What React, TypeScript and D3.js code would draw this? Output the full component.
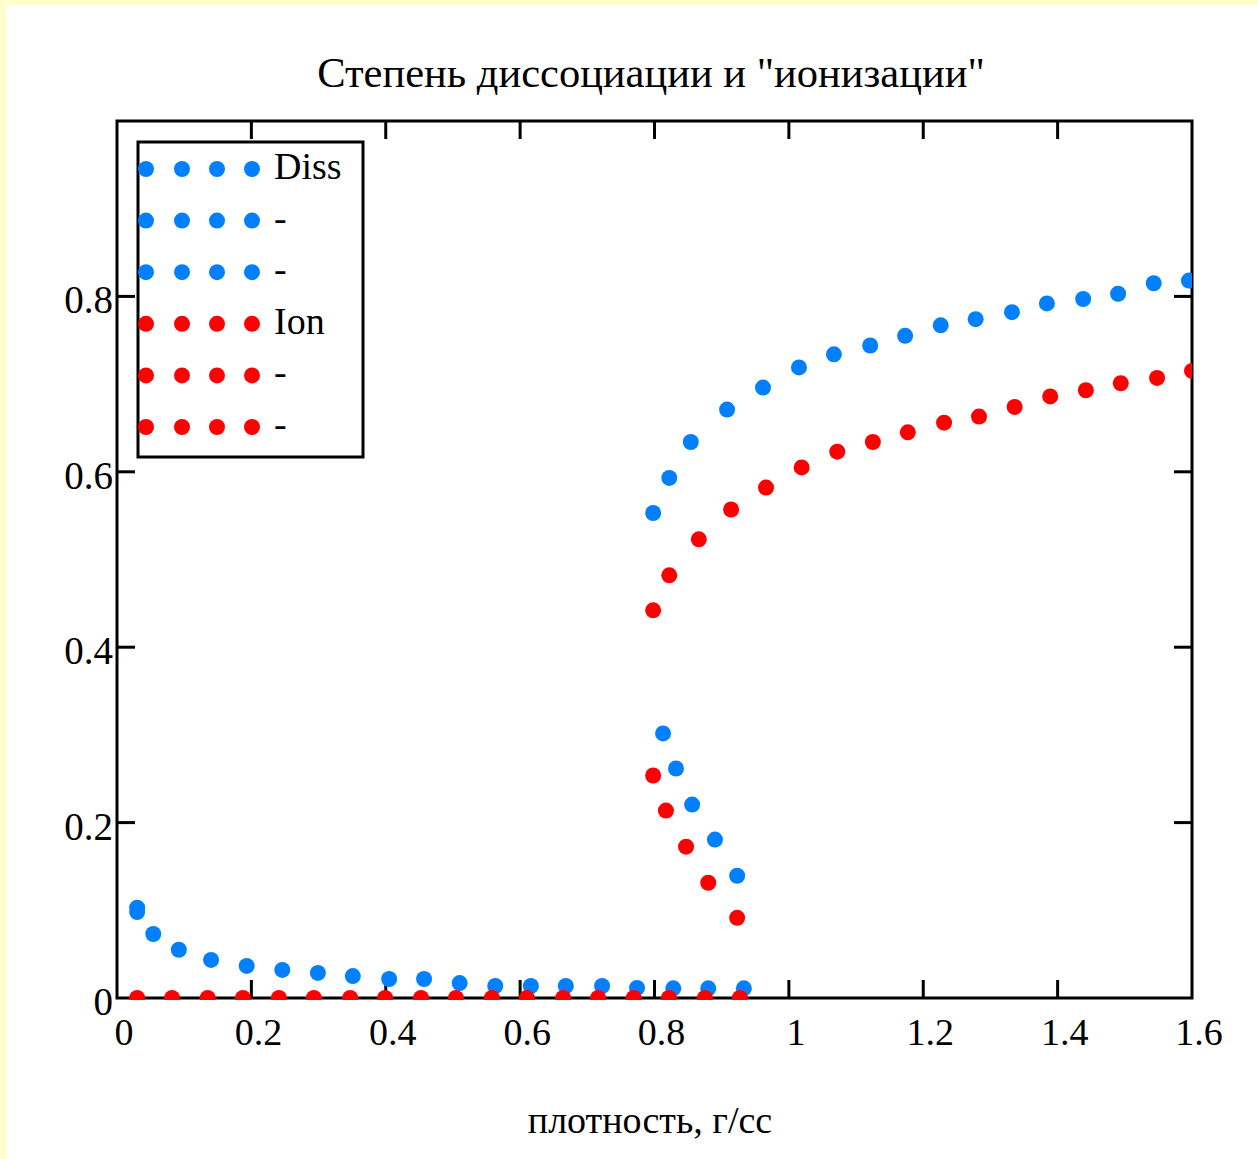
import React from "react";
import * as d3 from "d3";

// ---- data ----
const xTicks = [0, 0.2, 0.4, 0.6, 0.8, 1, 1.2, 1.4, 1.6];
const yTicks = [0, 0.2, 0.4, 0.6, 0.8];

const dissLowX = [0.03, 0.03, 0.054, 0.092, 0.14, 0.193, 0.246, 0.299, 0.351, 0.405, 0.457, 0.51, 0.563, 0.616, 0.668, 0.722, 0.774, 0.828, 0.88, 0.933];
const dissLowY = [0.103, 0.098, 0.073, 0.055, 0.0434, 0.0366, 0.032, 0.0286, 0.025, 0.0217, 0.0217, 0.017, 0.0137, 0.0137, 0.0137, 0.0137, 0.0115, 0.011, 0.011, 0.011];
const dissMidX = [0.8127, 0.832, 0.856, 0.89, 0.923];
const dissMidY = [0.3017, 0.2617, 0.2206, 0.1806, 0.1394];
const dissHighX = [0.798, 0.822, 0.854, 0.908, 0.9615, 1.015, 1.067, 1.121, 1.173, 1.226, 1.278, 1.332, 1.384, 1.438, 1.49, 1.543, 1.5955];
const dissHighY = [0.553, 0.593, 0.634, 0.671, 0.696, 0.719, 0.734, 0.744, 0.755, 0.767, 0.774, 0.782, 0.792, 0.797, 0.803, 0.815, 0.818];

const ionLowX = [0.03, 0.082, 0.135, 0.1875, 0.241, 0.293, 0.347, 0.399, 0.4525, 0.5045, 0.558, 0.61, 0.664, 0.716, 0.769, 0.8215, 0.875, 0.927];
const ionLowY = [0, 0, 0, 0, 0, 0, 0, 0, 0, 0, 0, 0, 0, 0, 0, 0, 0, 0];
const ionMidX = [0.798, 0.817, 0.847, 0.88, 0.923];
const ionMidY = [0.2537, 0.2137, 0.1726, 0.1314, 0.0914];
const ionHighX = [0.798, 0.822, 0.866, 0.914, 0.966, 1.019, 1.072, 1.125, 1.177, 1.231, 1.283, 1.336, 1.389, 1.442, 1.494, 1.548, 1.6];
const ionHighY = [0.442, 0.482, 0.523, 0.557, 0.582, 0.605, 0.623, 0.634, 0.645, 0.656, 0.663, 0.674, 0.686, 0.693, 0.701, 0.707, 0.715];

const legendLabels = ["Diss", "-", "-", "Ion", "-", "-"];
const title = "Степень диссоциации и \"ионизации\"";
const xLabel = "плотность, г/сс";

const BLUE = "#0080ff";
const RED = "#ff0000";

const series = [
  { xs: dissLowX, ys: dissLowY, color: BLUE },
  { xs: dissMidX, ys: dissMidY, color: BLUE },
  { xs: dissHighX, ys: dissHighY, color: BLUE },
  { xs: ionLowX, ys: ionLowY, color: RED },
  { xs: ionMidX, ys: ionMidY, color: RED },
  { xs: ionHighX, ys: ionHighY, color: RED },
];

const W = 1258;
const H = 1159;
const L = 117, R = 1192, T = 121, B = 998;
const FONT = "'Liberation Serif', 'Times New Roman', serif";

export default function App() {
  const x = d3.scaleLinear().domain([0, 1.6]).range([L, R]);
  const y = d3.scaleLinear().domain([0, 1.0]).range([B, T]);
  const tickLen = 18;
  const r = 8;

  const legX = 138, legY = 142, legW = 225, legH = 315;
  const rowY = (i: number) => 169 + i * 51.6;
  const dotXs = [146, 182, 217, 252];

  return (
    <div style={{ position: "absolute", left: 0, top: 0 }}>
      <svg width={W} height={H} style={{ display: "block" }}>
        <defs>
          <clipPath id="plotClip">
            <rect x={L} y={T} width={R - L} height={B - T + 2} />
          </clipPath>
        </defs>
        <rect x={0} y={0} width={W} height={H} fill="#ffffcc" />
        <rect x={6} y={5} width={W - 6} height={H - 5} fill="#ffffff" />

        <text x={651} y={87} textAnchor="middle" fontFamily={FONT} fontSize={42.5} fill="#000">
          {title}
        </text>

        {/* frame */}
        <rect x={L} y={T} width={R - L} height={B - T} fill="none" stroke="#000" strokeWidth={3} />
        {xTicks.filter((t) => t > 0 && t < 1.6).map((t) => (
          <g key={"xt" + t}>
            <line x1={x(t)} x2={x(t)} y1={B} y2={B - tickLen} stroke="#000" strokeWidth={3} />
            <line x1={x(t)} x2={x(t)} y1={T} y2={T + tickLen} stroke="#000" strokeWidth={3} />
          </g>
        ))}
        {yTicks.filter((t) => t > 0).map((t) => (
          <g key={"yt" + t}>
            <line x1={L} x2={L + tickLen} y1={y(t)} y2={y(t)} stroke="#000" strokeWidth={3} />
            <line x1={R} x2={R - tickLen} y1={y(t)} y2={y(t)} stroke="#000" strokeWidth={3} />
          </g>
        ))}

        {/* points */}
        <g clipPath="url(#plotClip)">
          {series.map((s, si) =>
            s.xs.map((xv, i) => (
              <circle key={si + "-" + i} cx={x(xv)} cy={y(s.ys[i])} r={r} fill={s.color} />
            ))
          )}
        </g>

        {/* tick labels */}
        {xTicks.map((t) => (
          <text key={"xl" + t} x={x(t) + 7} y={B + 47} textAnchor="middle" fontFamily={FONT} fontSize={38} fill="#000">
            {d3.format("~g")(t)}
          </text>
        ))}
        {yTicks.map((t) => (
          <text key={"yl" + t} x={L - 4} y={y(t) + 17} textAnchor="end" fontFamily={FONT} fontSize={39} fill="#000">
            {d3.format("~g")(t)}
          </text>
        ))}

        <text x={650} y={1133} textAnchor="middle" fontFamily={FONT} fontSize={38} fill="#000">
          {xLabel}
        </text>

        {/* legend */}
        <rect x={legX} y={legY} width={legW} height={legH} fill="#fff" stroke="#000" strokeWidth={3} />
        {legendLabels.map((lab, i) => (
          <g key={"lg" + i}>
            {dotXs.map((dx) => (
              <circle key={dx} cx={dx} cy={rowY(i)} r={r} fill={i < 3 ? BLUE : RED} />
            ))}
            <text x={274} y={rowY(i) + 10} fontFamily={FONT} fontSize={38} fill="#000">
              {lab}
            </text>
          </g>
        ))}
      </svg>
    </div>
  );
}
